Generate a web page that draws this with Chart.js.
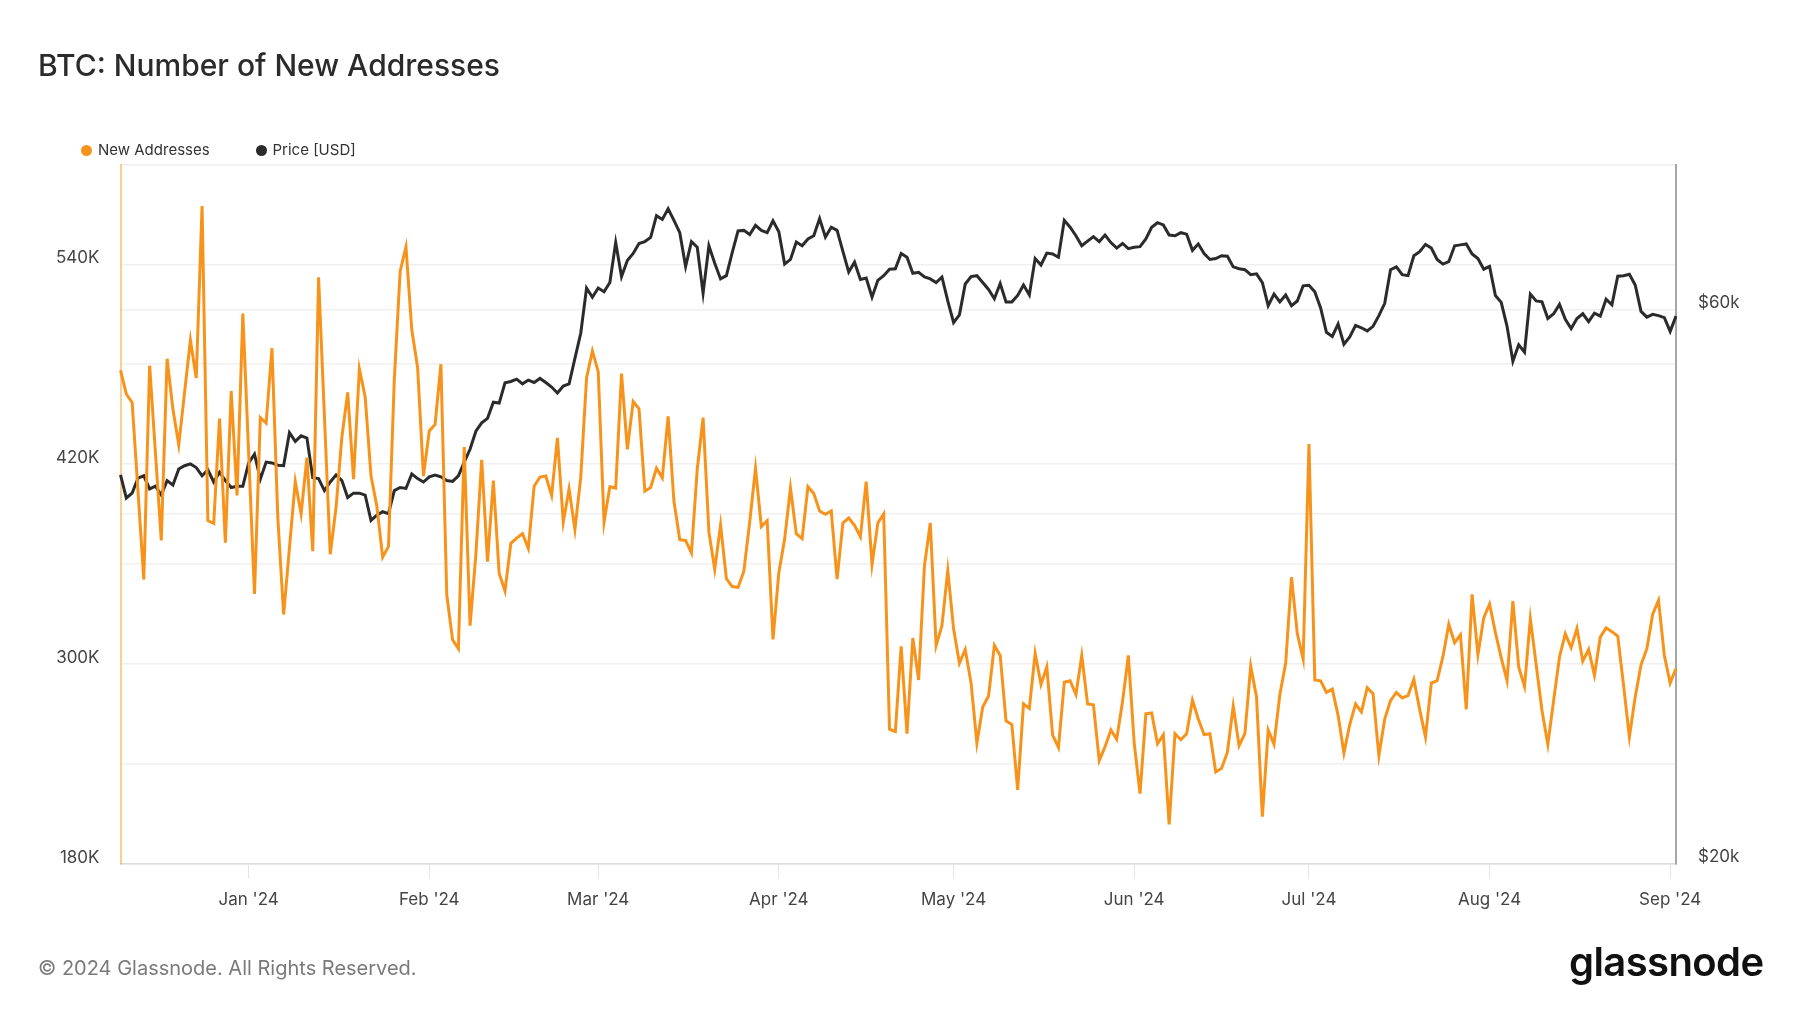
<!DOCTYPE html>
<html>
<head>
<meta charset="utf-8">
<title>BTC: Number of New Addresses</title>
<script src="https://cdn.jsdelivr.net/npm/chart.js@4.4.1/dist/chart.umd.min.js"></script>
<style>
  html, body { margin: 0; padding: 0; background: #fff; }
  body { width: 1800px; height: 1013px; position: relative; overflow: hidden; font-family: Inter, "Noto Sans", sans-serif; }
  #chart { position: absolute; left: 0; top: 0; }
  .title { position: absolute; left: 38px; top: 49px; font-size: 30px; line-height: 32px; font-weight: 500; color: #2b2b2b; white-space: nowrap; }
  .legend-item { position: absolute; top: 141px; height: 18px; line-height: 18px; font-size: 15px; color: #333; white-space: nowrap; }
  .legend-item .dot { display: inline-block; width: 11px; height: 11px; border-radius: 50%; margin-right: 6px; vertical-align: -1px; }
  .footer { position: absolute; left: 38px; top: 955px; font-size: 20px; line-height: 26px; color: #7a7a7a; white-space: nowrap; }
  .logo { position: absolute; left: 1569px; top: 938px; font-size: 40px; line-height: 48px; font-weight: 600; letter-spacing: -0.6px; color: #111; white-space: nowrap; }
</style>
</head>
<body>
<canvas id="chart" width="1800" height="1013"></canvas>
<div class="title">BTC: Number of New Addresses</div>
<div class="legend-item" style="left:81px"><span class="dot" style="background:#f7931a"></span>New Addresses</div>
<div class="legend-item" style="left:255.5px"><span class="dot" style="background:#2b2b2b"></span>Price [USD]</div>
<div class="footer">© 2024 Glassnode. All Rights Reserved.</div>
<div class="logo">glassnode</div>
<script>
// daily values, 2023-12-10 .. 2024-09-02
const newAddressesK = [
  476.4, 462.0, 457.0, 403.9, 350.6, 479.1, 426.6, 374.1, 483.3, 452.9,
  431.6, 463.1, 494.4, 471.7, 575.1, 386.0, 384.3, 447.3, 372.7, 463.9,
  401.2, 510.4, 426.3, 342.0, 447.9, 444.6, 489.6, 387.9, 329.6, 369.7,
  409.5, 390.1, 423.8, 367.7, 532.2, 449.0, 365.8, 394.0, 436.3, 463.1,
  410.9, 477.2, 460.3, 412.8, 394.8, 364.1, 370.5, 470.9, 535.8, 550.5,
  500.7, 478.0, 412.8, 439.9, 443.8, 480.0, 341.5, 314.4, 309.1, 430.2,
  322.9, 365.8, 422.5, 361.4, 410.0, 354.2, 343.7, 372.4, 375.5, 378.2,
  369.4, 406.7, 412.2, 412.8, 401.2, 435.7, 385.1, 405.0, 380.7, 412.0,
  471.7, 488.0, 475.5, 385.1, 406.4, 405.6, 474.4, 428.8, 457.6, 453.2,
  403.7, 405.9, 417.5, 411.7, 448.7, 397.6, 374.6, 374.1, 366.6, 416.9,
  447.9, 379.1, 356.7, 383.5, 351.1, 346.4, 345.9, 355.6, 385.1, 417.5,
  382.4, 386.0, 314.6, 354.7, 374.9, 405.6, 378.2, 375.2, 406.4, 402.3,
  391.8, 389.8, 391.8, 350.9, 384.6, 387.6, 383.2, 376.3, 409.5, 359.7,
  384.6, 390.1, 260.7, 259.3, 310.5, 258.0, 315.5, 290.3, 358.9, 384.6,
  311.0, 322.9, 356.1, 321.0, 300.3, 308.6, 288.4, 252.4, 274.0, 280.6,
  311.0, 305.0, 265.7, 263.5, 224.2, 275.9, 273.2, 306.3, 287.5, 298.1,
  257.1, 249.7, 288.9, 289.8, 281.5, 305.0, 275.9, 275.4, 241.9, 250.2,
  260.2, 254.6, 277.3, 305.0, 252.4, 222.0, 269.9, 270.4, 251.9, 257.4,
  203.5, 258.0, 254.4, 258.0, 278.1, 266.8, 257.4, 258.0, 235.0, 237.2,
  246.9, 274.6, 250.8, 258.0, 298.6, 280.1, 208.2, 260.2, 251.6, 281.5,
  300.3, 352.0, 318.0, 302.8, 432.1, 290.3, 289.8, 282.8, 284.8, 269.0,
  246.4, 263.5, 275.9, 271.0, 285.6, 282.0, 244.7, 266.8, 277.9, 282.8,
  279.5, 280.9, 290.6, 272.6, 256.0, 288.4, 289.8, 304.4, 323.8, 312.7,
  317.4, 272.6, 341.7, 305.5, 327.6, 335.9, 318.8, 303.6, 289.8, 337.6,
  298.1, 286.4, 327.1, 299.4, 271.8, 251.6, 278.1, 304.1, 318.0, 309.7,
  321.3, 301.6, 308.6, 293.1, 316.0, 321.6, 319.3, 316.6, 287.0, 256.0,
  280.1, 299.4, 309.1, 329.8, 338.1, 305.0, 288.4, 297.2
];

const priceUsd = [
  43220, 41290, 41690, 42950, 43150, 42040, 42270, 41530, 42740, 42360,
  43740, 44020, 44180, 43860, 43150, 43660, 42620, 43460, 42740, 42160,
  42270, 42270, 44260, 45030, 42860, 44340, 44260, 44060, 44020, 47000,
  46200, 46710, 46500, 42990, 42910, 41900, 42620, 43220, 42740, 41330,
  41690, 41690, 41530, 39490, 39910, 40180, 40030, 41900, 42160, 42080,
  43300, 42910, 42620, 43060, 43220, 43060, 42740, 42670, 43150, 44340,
  45480, 47140, 47920, 48360, 49930, 49840, 51880, 52020, 52260, 51780,
  52170, 51920, 52340, 51920, 51450, 50850, 51550, 51780, 54460, 57240,
  62620, 61490, 62620, 62160, 63300, 68520, 64060, 66140, 67060, 68400,
  68660, 69230, 72280, 71740, 73270, 71610, 69880, 65360, 68660, 67900,
  61990, 68090, 65780, 63760, 64170, 67170, 70140, 70200, 69620, 70900,
  70200, 69880, 71540, 70010, 65660, 66270, 68590, 68090, 69020, 69460,
  71870, 69270, 70640, 70200, 67350, 64630, 65910, 63700, 63880, 61490,
  63580, 64170, 65000, 65060, 67060, 66560, 64480, 64600, 64000, 63760,
  63300, 64000, 61030, 58460, 59380, 63120, 64060, 64170, 63300, 62440,
  61300, 63180, 60920, 60920, 61700, 63000, 61760, 66380, 65540, 67110,
  67000, 66560, 71610, 70640, 69460, 68090, 68720, 69340, 68660, 69560,
  68520, 67780, 68400, 67710, 67900, 67970, 69020, 70640, 71280, 70960,
  69560, 69460, 69880, 69680, 67480, 68340, 67060, 66270, 66380, 66760,
  66700, 65300, 65060, 64940, 64290, 64400, 63300, 60470, 61870, 60920,
  61760, 60470, 61030, 62890, 62950, 62160, 60200, 57350, 56880, 58300,
  56010, 56830, 58140, 57870, 57510, 58040, 59280, 60740, 64940, 65300,
  64290, 64170, 66760, 67290, 68280, 67780, 66270, 65660, 65970, 68090,
  68210, 68340, 67000, 66380, 65000, 65360, 61700, 60860, 58040, 54160,
  55960, 55140, 61870, 61030, 60920, 58950, 59500, 60620, 58840, 57780,
  58950, 59500, 58570, 59560, 59220, 61250, 60570, 64110, 64170, 64350,
  63000, 59780, 59110, 59440, 59280, 59050, 57460, 59220
];

const tickDates = ["2024-01-01", "2024-02-01", "2024-03-01", "2024-04-01", "2024-05-01",
                   "2024-06-01", "2024-07-01", "2024-08-01", "2024-09-01"];
const tickLabels = ["Jan '24", "Feb '24", "Mar '24", "Apr '24", "May '24",
                    "Jun '24", "Jul '24", "Aug '24", "Sep '24"];
const addrTicksShown = [180, 300, 420, 540];
const priceTicks = [20000, 40000, 60000, 80000];
const priceTickLabels = ["$20k", "", "$60k", ""];

const dates = [];
for (let i = 0; i < newAddressesK.length; i++) {
  dates.push(new Date(Date.UTC(2023, 11, 10 + i)).toISOString().slice(0, 10));
}

const tickFont = { family: "Inter, 'Noto Sans', sans-serif", size: 17 };
const gridColor = "#f0f0f0";

new Chart(document.getElementById("chart"), {
  type: "line",
  data: {
    labels: dates,
    datasets: [
      {
        label: "New Addresses",
        data: newAddressesK,
        yAxisID: "yAddr",
        borderColor: "#f7931a",
        borderWidth: 3,
        pointRadius: 0,
        tension: 0,
      },
      {
        label: "Price [USD]",
        data: priceUsd,
        yAxisID: "yPrice",
        borderColor: "#2b2b2b",
        borderWidth: 3,
        pointRadius: 0,
        tension: 0,
      },
    ],
  },
  options: {
    responsive: false,
    animation: false,
    events: [],
    layout: { padding: { top: 164.5, left: 0, right: 0, bottom: 0 } },
    plugins: {
      legend: { display: false },
      tooltip: { enabled: false },
    },
    scales: {
      x: {
        type: "category",
        offset: false,
        grid: {
          drawOnChartArea: false,
          drawTicks: true,
          tickLength: 15,
          tickColor: (c) => (c.tick && c.tick.label ? "#e4e4e4" : "rgba(0,0,0,0)"),
        },
        border: { display: true, color: "#dddddd", width: 1.5 },
        ticks: {
          autoSkip: false,
          maxRotation: 0,
          padding: 11,
          font: tickFont,
          color: "#444",
          callback: function (value) {
            const k = tickDates.indexOf(this.getLabelForValue(value));
            return k >= 0 ? tickLabels[k] : null;
          },
        },
        afterFit: (scale) => { scale.height = 149.5; },
      },
      yAddr: {
        type: "linear",
        position: "left",
        min: 180,
        max: 600,
        ticks: {
          stepSize: 60,
          padding: 21,
          labelOffset: -6,
          font: tickFont,
          color: "#444",
          callback: (v) => (addrTicksShown.includes(v) ? v + "K" : ""),
        },
        grid: { color: gridColor, lineWidth: 1.5, drawTicks: false },
        border: { display: true, color: "rgba(247,147,26,0.45)", width: 2 },
        afterFit: (scale) => { scale.width = 120.5; },
      },
      yPrice: {
        type: "logarithmic",
        position: "right",
        min: 20000,
        max: 80000,
        afterBuildTicks: (scale) => { scale.ticks = priceTicks.map((v) => ({ value: v })); },
        ticks: {
          padding: 22,
          labelOffset: -7,
          font: tickFont,
          color: "#444",
          callback: (v) => {
            const k = priceTicks.indexOf(v);
            return k >= 0 ? priceTickLabels[k] : "";
          },
        },
        grid: { color: gridColor, lineWidth: 1.5, drawTicks: false },
        border: { display: true, color: "#a6a6a6", width: 2 },
        afterFit: (scale) => { scale.width = 124; },
      },
    },
  },
});
</script>
</body>
</html>
